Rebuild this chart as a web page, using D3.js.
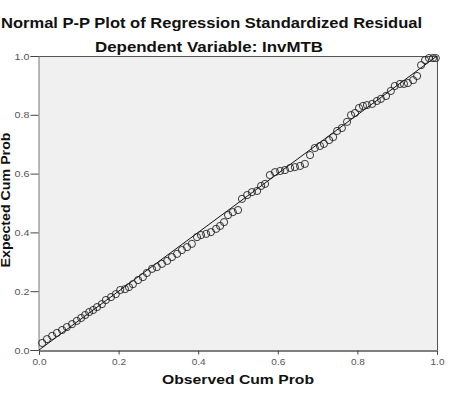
<!DOCTYPE html>
<html><head><meta charset="utf-8">
<script src="https://cdn.jsdelivr.net/npm/d3@7"></script>
<style>body{margin:0;background:#fff}svg{display:block}</style>
</head><body>
<script>
const titleText = "Normal P-P Plot of Regression Standardized Residual";
const subtitleText = "Dependent Variable: InvMTB";
const xLabel = "Observed Cum Prob";
const yLabel = "Expected Cum Prob";
const tickValues = [0, 0.2, 0.4, 0.6, 0.8, 1.0];
const tickLabels = ["0.0", "0.2", "0.4", "0.6", "0.8", "1.0"];
const observed = [0.008,0.020,0.033,0.045,0.058,0.070,0.083,0.095,0.106,0.116,0.126,0.136,0.146,0.158,0.168,0.181,0.193,0.204,0.216,0.226,0.236,0.249,0.261,0.271,0.284,0.296,0.309,0.322,0.334,0.347,0.359,0.372,0.384,0.397,0.407,0.420,0.432,0.445,0.455,0.465,0.475,0.487,0.500,0.510,0.523,0.535,0.548,0.558,0.568,0.580,0.593,0.606,0.618,0.631,0.643,0.656,0.668,0.681,0.693,0.706,0.716,0.729,0.739,0.749,0.761,0.774,0.784,0.794,0.804,0.814,0.824,0.837,0.849,0.859,0.872,0.884,0.894,0.907,0.917,0.927,0.940,0.950,0.960,0.970,0.980,0.990,0.997];
const expected = [0.024,0.037,0.048,0.058,0.068,0.078,0.088,0.099,0.109,0.119,0.129,0.136,0.146,0.156,0.170,0.180,0.190,0.204,0.207,0.214,0.224,0.238,0.248,0.262,0.276,0.282,0.293,0.303,0.316,0.327,0.340,0.350,0.361,0.384,0.391,0.395,0.401,0.412,0.422,0.435,0.459,0.469,0.476,0.514,0.527,0.537,0.541,0.558,0.565,0.595,0.605,0.609,0.612,0.619,0.622,0.626,0.633,0.663,0.687,0.694,0.701,0.714,0.724,0.745,0.755,0.776,0.799,0.806,0.823,0.830,0.833,0.837,0.847,0.854,0.864,0.881,0.898,0.905,0.905,0.908,0.918,0.932,0.969,0.986,0.993,0.993,0.993];
const refLine = [[0,0],[1,1]];

const W = 451, H = 398;
const svg = d3.select("body").append("svg").attr("width", W).attr("height", H);
const L = 39, R = 437, T = 56, B = 350;
const x = d3.scaleLinear().domain([0,1]).range([L,R]);
const y = d3.scaleLinear().domain([0,1]).range([B,T]);
const font = "'Liberation Sans', Arial, sans-serif";

// plot background
svg.append("rect").attr("x",L).attr("y",T).attr("width",R-L).attr("height",B-T)
  .attr("fill","#f0f0f0").attr("stroke","none");
// top & right border
svg.append("path").attr("d",`M${L},${T+0.5}H${R+0.5}V${B}`).attr("fill","none").attr("stroke","#555").attr("stroke-width",1);

// axes
const yAxis = d3.axisLeft(y).tickValues(tickValues).tickSize(8).tickPadding(1)
  .tickFormat((d,i)=>tickLabels[i]);
const gy = svg.append("g").attr("transform",`translate(${L-0.5},0)`).call(yAxis);
gy.select(".domain").attr("stroke","#777");
gy.selectAll(".tick line").attr("stroke","#444");
gy.selectAll("text").attr("font-family",font).attr("font-size",9.5).attr("fill","#555")
  .attr("textLength",15).attr("lengthAdjust","spacingAndGlyphs");

const xAxis = d3.axisBottom(x).tickValues(tickValues).tickSize(4).tickPadding(4)
  .tickFormat((d,i)=>tickLabels[i]);
const gx = svg.append("g").attr("transform",`translate(0,${B+0.5})`).call(xAxis);
gx.select(".domain").attr("stroke","#000");
gx.selectAll(".tick line").attr("stroke","#444");
gx.selectAll("text").attr("font-family",font).attr("font-size",9.5).attr("fill","#555")
  .attr("textLength",14).attr("lengthAdjust","spacingAndGlyphs");

// reference line
svg.append("path").datum(refLine)
  .attr("d", d3.line().x(d=>x(d[0])).y(d=>y(d[1])))
  .attr("stroke","#111").attr("stroke-width",1).attr("fill","none");

// points
svg.append("g").selectAll("circle").data(observed.map((o,i)=>[o,expected[i]])).join("circle")
  .attr("cx",d=>x(d[0])).attr("cy",d=>y(d[1])).attr("r",3.6)
  .attr("fill","none").attr("stroke","#222").attr("stroke-width",0.9);

// titles
svg.append("text").attr("x",1).attr("y",27.5).text(titleText)
  .attr("font-family",font).attr("font-weight","bold").attr("font-size",15.5).attr("fill","#111")
  .attr("textLength",421).attr("lengthAdjust","spacingAndGlyphs");
svg.append("text").attr("x",95).attr("y",52).text(subtitleText)
  .attr("font-family",font).attr("font-weight","bold").attr("font-size",14).attr("fill","#111")
  .attr("textLength",228).attr("lengthAdjust","spacingAndGlyphs");
svg.append("text").attr("x",162).attr("y",383.5).text(xLabel)
  .attr("font-family",font).attr("font-weight","bold").attr("font-size",12.5).attr("fill","#111")
  .attr("textLength",152).attr("lengthAdjust","spacingAndGlyphs");
svg.append("text").attr("transform","translate(10,200) rotate(-90)").attr("text-anchor","middle").text(yLabel)
  .attr("font-family",font).attr("font-weight","bold").attr("font-size",12).attr("fill","#111")
  .attr("textLength",135).attr("lengthAdjust","spacingAndGlyphs");
</script>
</body></html>
